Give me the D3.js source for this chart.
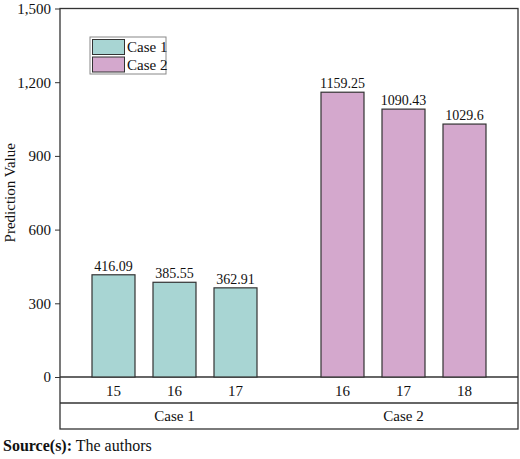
<!DOCTYPE html>
<html><head><meta charset="utf-8">
<script src="https://cdn.jsdelivr.net/npm/d3@7"></script>
<style>body{margin:0;background:#fff}text{font-family:"Liberation Serif",serif;fill:#111}</style>
</head><body><svg id="c" width="520" height="459"></svg>
<script>
const groups = ['Case 1', 'Case 2']
const case1Labels = ['15', '16', '17']
const case1Values = [416.09, 385.55, 362.91]
const case2Labels = ['16', '17', '18']
const case2Values = [1159.25, 1090.43, 1029.6]
const yTicks = [0, 300, 600, 900, 1200, 1500]
const colors = ['#a8d5d3', '#d4a8cd']

const data = [
  {group: groups[0], labels: case1Labels, values: case1Values, color: colors[0]},
  {group: groups[1], labels: case2Labels, values: case2Values, color: colors[1]}
]

const svg = d3.select('#c')
const L = 60, R = 518, T = 8.5, B = 377, rowB = 403, bot = 429

const gx = d3.scaleBand().domain(groups).range([L, R])
const ix = d3.scaleBand().domain([0, 1, 2]).range([32, 197]).paddingInner(18 / 61)
const y = d3.scaleLinear().domain([0, 1500]).range([B, T])

// frame
svg.append('rect').attr('x', L).attr('y', T).attr('width', R - L).attr('height', bot - T)
  .attr('fill', 'none').attr('stroke', '#333').attr('stroke-width', 1.3)
svg.append('line').attr('x1', L).attr('x2', R).attr('y1', B).attr('y2', B).attr('stroke', '#333').attr('stroke-width', 1.3)
svg.append('line').attr('x1', L).attr('x2', R).attr('y1', rowB).attr('y2', rowB).attr('stroke', '#333').attr('stroke-width', 1.3)

// y axis
const ya = svg.append('g').attr('transform', `translate(${L},0)`)
  .call(d3.axisLeft(y).tickValues(yTicks).tickSize(5).tickPadding(4))
ya.select('.domain').remove()
ya.selectAll('line').attr('stroke', '#333')
ya.selectAll('text').style('font-size', '15px').style('font-family', 'Liberation Serif')

svg.append('text').attr('transform', `translate(15,${(T + B) / 2}) rotate(-90)`)
  .attr('text-anchor', 'middle').style('font-size', '15px').text('Prediction Value')

data.forEach(d => {
  const g = svg.append('g').attr('transform', `translate(${gx(d.group)},0)`)
  d.values.forEach((v, i) => {
    g.append('rect').attr('x', ix(i)).attr('width', ix.bandwidth())
      .attr('y', y(v)).attr('height', B - y(v))
      .attr('fill', d.color).attr('stroke', '#333').attr('stroke-width', 1.2)
    g.append('text').attr('x', ix(i) + ix.bandwidth() / 2).attr('y', y(v) - 4)
      .attr('text-anchor', 'middle').style('font-size', '14px').text(v)
    g.append('text').attr('x', ix(i) + ix.bandwidth() / 2).attr('y', 396)
      .attr('text-anchor', 'middle').style('font-size', '15px').text(d.labels[i])
  })
  svg.append('text').attr('x', gx(d.group) + gx.bandwidth() / 2).attr('y', 421)
    .attr('text-anchor', 'middle').style('font-size', '15px').text(d.group)
})

// legend
const lg = svg.append('g').attr('transform', 'translate(90,37)')
lg.append('rect').attr('width', 76).attr('height', 37).attr('fill', '#fff').attr('stroke', '#888')
data.forEach((d, i) => {
  lg.append('rect').attr('x', 2.5).attr('y', 2.5 + i * 17.5).attr('width', 32).attr('height', 15)
    .attr('fill', d.color).attr('stroke', '#333')
  lg.append('text').attr('x', 37).attr('y', 15 + i * 17.5).style('font-size', '15px').text(d.group)
})

const src = svg.append('text').attr('x', 3).attr('y', 451).style('font-size', '16px')
src.append('tspan').style('font-weight', 'bold').text('Source(s):')
src.append('tspan').text(' The authors')
</script></body></html>
